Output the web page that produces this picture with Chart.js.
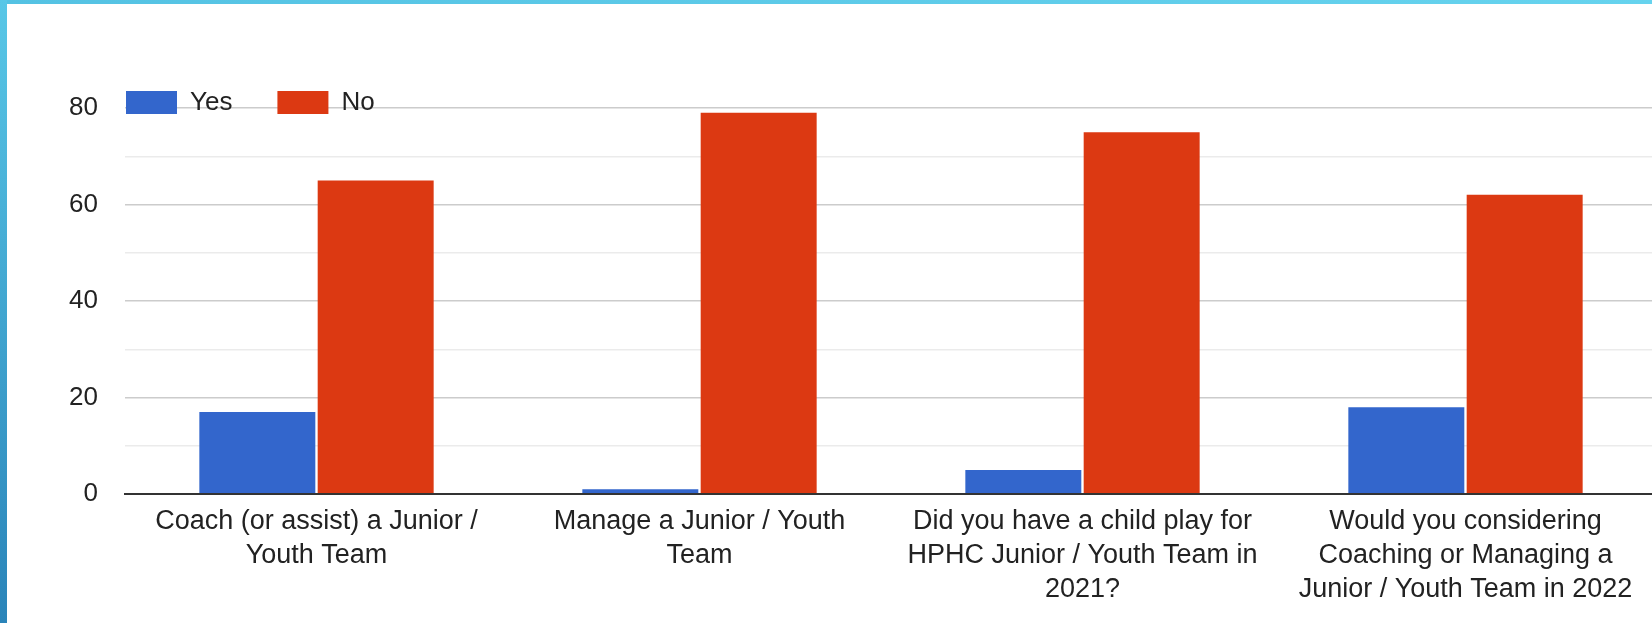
<!DOCTYPE html>
<html>
<head>
<meta charset="utf-8">
<script src="https://cdn.jsdelivr.net/npm/chart.js@4.4.1/dist/chart.umd.min.js"></script>
<style>
    html, body { margin: 0; padding: 0; background: #fff; overflow: hidden; width: 1652px; height: 623px; }
    #wrap { position: absolute; left: 0; top: 0; width: 1657px; height: 623px; }
    .edge-top { position: absolute; left: 0; top: 0; width: 1652px; height: 4px; background: linear-gradient(to right, #54c2e3, #66d3ee); }
    .edge-left { position: absolute; left: 0; top: 0; width: 7px; height: 623px; background: linear-gradient(to bottom, #58c7e7, #2a84b9); }
</style>
</head>
<body>
<div id="wrap"><canvas id="barChart"></canvas></div>
<div class="edge-top"></div>
<div class="edge-left"></div>
<script>
    // Datos
    const categories = [
        ["Coach (or assist) a Junior /", "Youth Team"],
        ["Manage a Junior / Youth", "Team"],
        ["Did you have a child play for", "HPHC Junior / Youth Team in", "2021?"],
        ["Would you considering", "Coaching or Managing a", "Junior / Youth Team in 2022"]
    ];
    const yesValues = [17, 1, 5, 18];
    const noValues = [65, 79, 75, 62];
    const yMax = 80;
    const yStep = 10;      // una linea cada 10
    const labelStep = 20;  // etiqueta cada 20

    const fontFamily = "'Liberation Sans', Arial, sans-serif";
    const textColor = "#222";

    // Mueve la leyenda dentro del area, sobre la linea de 80
    const legendInside = {
        id: "legendInside",
        afterLayout(chart) {
            const legend = chart.legend;
            const pad = legend.options.labels.padding;
            legend.left = chart.chartArea.left + 1 - pad;
            legend.right = chart.width;
            legend.top = 89.5 - pad;
            legend.bottom = legend.top + pad + 40;
        }
    };

    new Chart(document.getElementById("barChart"), {
        type: "bar",
        data: {
            labels: categories,
            datasets: [
                { label: "Yes", data: yesValues, backgroundColor: "#3366cc", borderWidth: 0 },
                { label: "No", data: noValues, backgroundColor: "#dc3912", borderWidth: 0 }
            ]
        },
        options: {
            responsive: true,
            maintainAspectRatio: false,
            animation: false,
            categoryPercentage: 0.618,
            barPercentage: 0.98,
            layout: { padding: { top: 27, left: 0, right: 0, bottom: 0 } },
            plugins: {
                tooltip: { enabled: false },
                legend: {
                    position: "top",
                    align: "start",
                    labels: {
                        boxWidth: 51,
                        boxHeight: 23,
                        padding: 45,
                        color: textColor,
                        font: { family: fontFamily, size: 26 }
                    }
                }
            },
            scales: {
                x: {
                    grid: { display: false },
                    border: { display: true, color: "#333", width: 2, z: 1 },
                    ticks: {
                        color: textColor,
                        font: { family: fontFamily, size: 27, lineHeight: 1.25 },
                        padding: 3,
                        maxRotation: 0,
                        autoSkip: false
                    },
                    afterFit(scale) { scale.height = 129; }
                },
                y: {
                    min: 0,
                    max: yMax,
                    border: { display: false },
                    grid: {
                        drawTicks: false,
                        lineWidth: 1.5,
                        color: ctx => {
                            const v = ctx.tick.value;
                            if (v === 0) return "rgba(0,0,0,0)";
                            return v % labelStep === 0 ? "#cccccc" : "#ebebeb";
                        }
                    },
                    ticks: {
                        stepSize: yStep,
                        padding: 27,
                        color: textColor,
                        font: { family: fontFamily, size: 26 },
                        callback: v => (v % labelStep === 0 ? v : "")
                    },
                    afterFit(scale) { scale.width = 125; }
                }
            }
        },
        plugins: [legendInside]
    });
</script>
</body>
</html>
